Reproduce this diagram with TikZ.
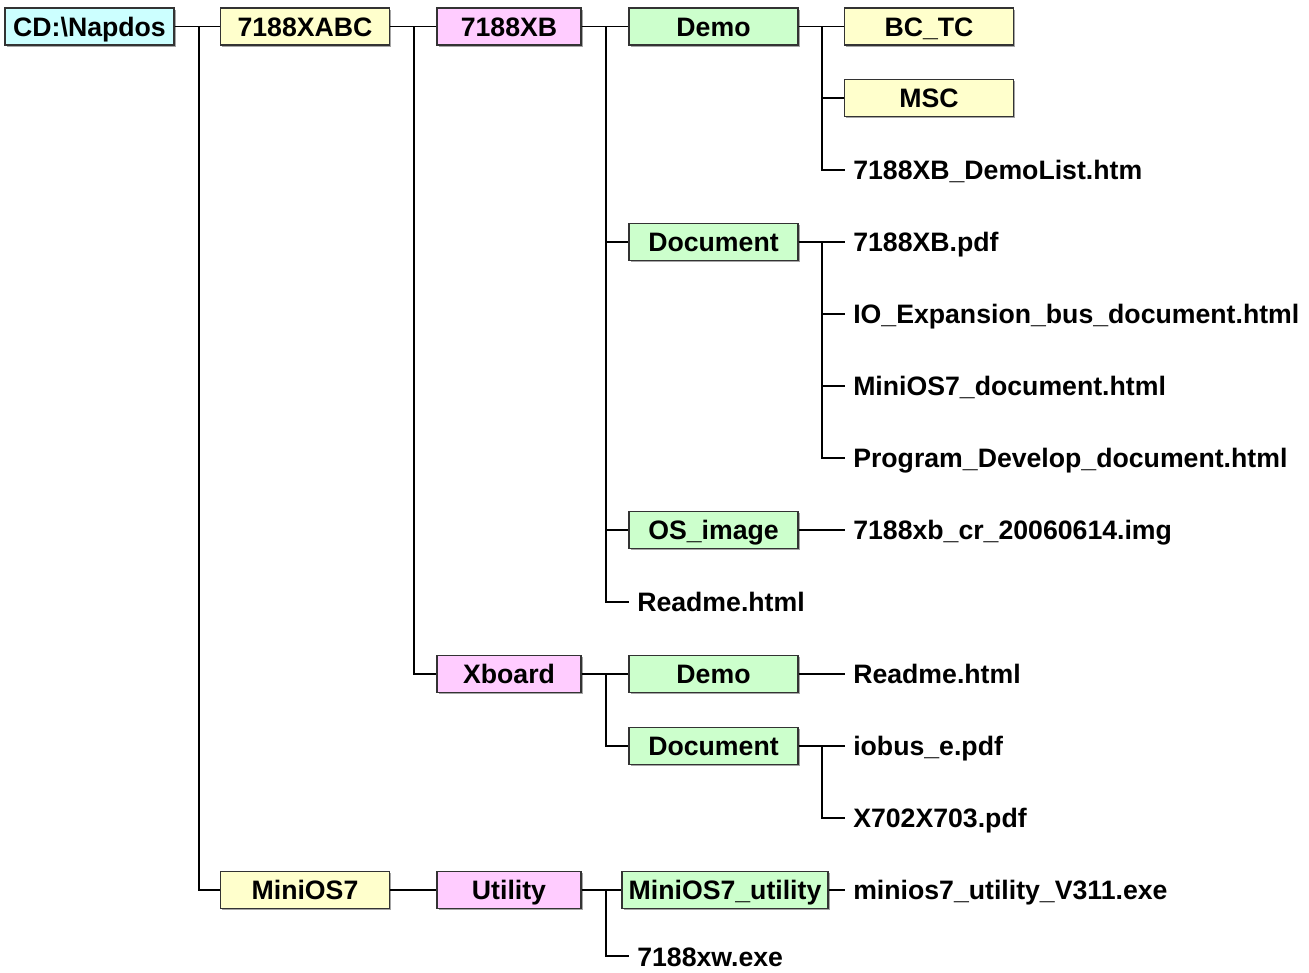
\documentclass[tikz,border=0pt]{standalone}
\usepackage{fontspec}
\setmainfont{Liberation Sans}
\usetikzlibrary{shadows}
\definecolor{dircyan}{RGB}{204,255,255}
\definecolor{diryellow}{RGB}{255,255,204}
\definecolor{dirpink}{RGB}{255,204,255}
\definecolor{dirgreen}{RGB}{204,255,204}

\begin{document}
\begin{tikzpicture}[
  x=0.75pt, y=0.75pt,
  font=\fontsize{20}{22}\selectfont\bfseries,
  every node/.style={text height=17.3pt, text depth=3pt},
  dirbox/.style={draw=black!80, line width=1pt, minimum height=27.75pt, inner sep=0pt,
    drop shadow={shadow xshift=1.2pt, shadow yshift=-1.2pt, fill=black!35, opacity=1}},
  widebox/.style={dirbox, minimum width=126.75pt},
  midbox/.style={dirbox, minimum width=108pt},
  rootdir/.style={widebox, fill=dircyan},
  lvla/.style={widebox, fill=diryellow},
  lvlb/.style={midbox, fill=dirpink},
  lvlc/.style={widebox, fill=dirgreen},
  file/.style={anchor=west, inner xsep=6pt, inner ysep=0pt},
  tree/.style={line width=1.3pt, black}
]
  \useasboundingbox (0,0) rectangle (1309,-973);

  % directories
  \node[rootdir] (root) at (89.5,-26.5) {CD:\textbackslash Napdos};
  \node[lvla] (xabc) at (305,-26.5) {7188XABC};
  \node[lvlb] (xb) at (509,-26.5) {7188XB};
  \node[lvlc] (demoa) at (713.5,-26.5) {Demo};
  \node[lvla] (bctc) at (929,-26.5) {BC\_TC};
  \node[lvla] (msc) at (929,-98) {MSC};
  \node[lvlc] (doca) at (713.5,-242) {Document};
  \node[lvlc] (osimg) at (713.5,-530) {OS\_image};
  \node[lvlb] (xboard) at (509,-674) {Xboard};
  \node[lvlc] (demob) at (713.5,-674) {Demo};
  \node[lvlc] (docb) at (713.5,-746) {Document};
  \node[lvla] (minios) at (305,-890) {MiniOS7};
  \node[lvlb] (util) at (509,-890) {Utility};
  \node[dirbox, fill=dirgreen, minimum width=154.5pt] (mutil) at (725,-890) {MiniOS7\_utility};

  % files
  \node[file] (demolist) at (845,-170) {7188XB\_DemoList.htm};
  \node[file] (xbpdf) at (845,-242) {7188XB.pdf};
  \node[file] (ioexp) at (845,-314) {IO\_Expansion\_bus\_document.html};
  \node[file] (osdoc) at (845,-386) {MiniOS7\_document.html};
  \node[file] (progdev) at (845,-458) {Program\_Develop\_document.html};
  \node[file] (img) at (845,-530) {7188xb\_cr\_20060614.img};
  \node[file] (readmea) at (629,-602) {Readme.html};
  \node[file] (readmeb) at (845,-674) {Readme.html};
  \node[file] (iobus) at (845,-746) {iobus\_e.pdf};
  \node[file] (xpdf) at (845,-818) {X702X703.pdf};
  \node[file] (mexe) at (845,-890) {minios7\_utility\_V311.exe};
  \node[file, text depth=1pt] (xw) at (629,-956) {7188xw.exe};

  % connectors
  \foreach \c in {xabc,minios} \draw[tree] (root.east) -- ++(24,0) |- (\c.west);
  \foreach \c in {xb,xboard} \draw[tree] (xabc.east) -- ++(24,0) |- (\c.west);
  \foreach \c in {demoa,doca,osimg,readmea} \draw[tree] (xb.east) -- ++(24,0) |- (\c.west);
  \foreach \c in {bctc,msc,demolist} \draw[tree] (demoa.east) -- ++(23,0) |- (\c.west);
  \foreach \c in {xbpdf,ioexp,osdoc,progdev} \draw[tree] (doca.east) -- ++(23,0) |- (\c.west);
  \draw[tree] (osimg.east) -- (img.west);
  \foreach \c in {demob,docb} \draw[tree] (xboard.east) -- ++(24,0) |- (\c.west);
  \draw[tree] (demob.east) -- (readmeb.west);
  \foreach \c in {iobus,xpdf} \draw[tree] (docb.east) -- ++(23,0) |- (\c.west);
  \draw[tree] (minios.east) -- (util.west);
  \foreach \c in {mutil,xw} \draw[tree] (util.east) -- ++(24,0) |- (\c.west);
  \draw[tree] (mutil.east) -- (mexe.west);
\end{tikzpicture}
\end{document}
